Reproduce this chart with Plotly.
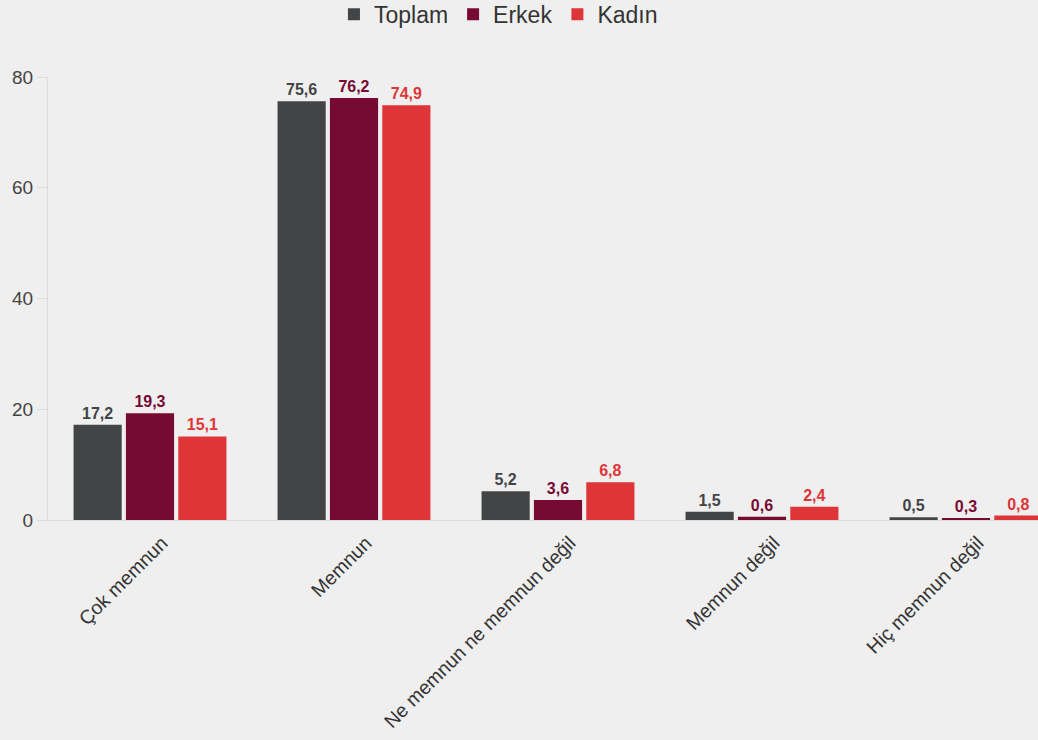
import plotly.graph_objects as go

categories = ["Çok memnun", "Memnun", "Ne memnun ne memnun değil", "Memnun değil", "Hiç memnun değil"]
toplam = [17.2, 75.6, 5.2, 1.5, 0.5]
erkek = [19.3, 76.2, 3.6, 0.6, 0.3]
kadin = [15.1, 74.9, 6.8, 2.4, 0.8]
series_names = ["Toplam", "Erkek", "Kadın"]
colors = ["#434446", "#760a32", "#de3638"]
y_ticks = [0, 20, 40, 60, 80]

def fmt(v):
    return f"{v:.1f}".replace(".", ",")

fig = go.Figure()
for name, vals, col in zip(series_names, [toplam, erkek, kadin], colors):
    fig.add_trace(go.Bar(
        name=name, x=categories, y=vals,
        marker=dict(color=col, line=dict(width=0)),
        text=[fmt(v) for v in vals], textposition="outside",
        textfont=dict(color=col, size=16, family="Liberation Sans, Arial", weight="bold"),
        cliponaxis=False,
    ))

fig.update_layout(
    width=1038, height=740,
    barmode="group", bargap=0.23, bargroupgap=0.08,
    paper_bgcolor="#efefef", plot_bgcolor="#efefef",
    margin=dict(l=48, r=0, t=77, b=220, autoexpand=False),
    font=dict(family="Liberation Sans, Arial", color="#333333"),
    legend=dict(orientation="h", x=0.455, xanchor="center", y=1.19, yanchor="top",
                font=dict(size=23, color="#333333"), itemwidth=30, traceorder="normal"),
    xaxis=dict(range=[-0.5, 4.353], tickangle=-45, tickfont=dict(size=19.5, color="#333333"),
               showline=True, linecolor="#dcdcdc", linewidth=1, ticks="", showgrid=False,
               automargin=False, ticklabelstandoff=3, ticklabelshift=12),
    yaxis=dict(range=[0, 80], tickvals=y_ticks, tickfont=dict(size=19, color="#444444"),
               showline=True, linecolor="#dcdcdc", linewidth=1, ticks="outside", ticklen=10,
               tickcolor="#dcdcdc", showgrid=False, zeroline=False, automargin=False),
)

fig.write_html("out.html", config={"displayModeBar": False},
               post_script="document.body.style.margin='0';document.body.style.background='#efefef';")
